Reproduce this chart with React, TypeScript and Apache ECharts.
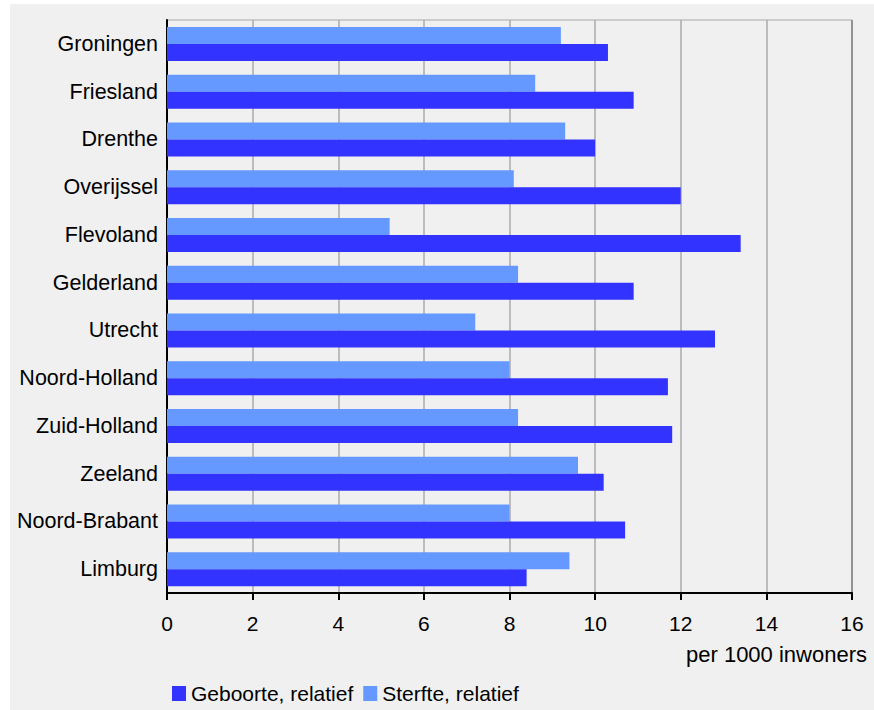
import React, { useEffect, useRef } from "react";
import * as echarts from "echarts";

const provinces = [
  "Groningen",
  "Friesland",
  "Drenthe",
  "Overijssel",
  "Flevoland",
  "Gelderland",
  "Utrecht",
  "Noord-Holland",
  "Zuid-Holland",
  "Zeeland",
  "Noord-Brabant",
  "Limburg",
];

const geboorte = [10.3, 10.9, 10.0, 12.0, 13.4, 10.9, 12.8, 11.7, 11.8, 10.2, 10.7, 8.4];
const sterfte = [9.2, 8.6, 9.3, 8.1, 5.2, 8.2, 7.2, 8.0, 8.2, 9.6, 8.0, 9.4];

const xTicks = [0, 2, 4, 6, 8, 10, 12, 14, 16];
const unitLabel = "per 1000 inwoners";
const nameGeboorte = "Geboorte, relatief";
const nameSterfte = "Sterfte, relatief";

const FONT = "'Liberation Sans', Arial, Helvetica, sans-serif";

export default function App() {
  const ref = useRef<HTMLDivElement>(null);

  useEffect(() => {
    if (!ref.current) return;
    const chart = echarts.init(ref.current, undefined, { renderer: "svg" });
    const splitColors = xTicks.map((_, i) => (i === xTicks.length - 1 ? "#808080" : "#ABABAB"));
    chart.setOption({
      animation: false,
      backgroundColor: "transparent",
      textStyle: { fontFamily: FONT, color: "#000" },
      grid: {
        left: 167,
        right: 22,
        top: 20,
        bottom: 117,
        show: true,
        borderColor: "#A8A8A8",
        borderWidth: 1,
        backgroundColor: "transparent",
      },
      xAxis: {
        type: "value",
        min: 0,
        max: 16,
        interval: 2,
        axisLine: { show: true, lineStyle: { color: "#000", width: 2 } },
        axisTick: { show: true, length: 7, lineStyle: { color: "#000", width: 2 } },
        axisLabel: {
          color: "#000",
          fontSize: 21,
          fontFamily: FONT,
          margin: 20,
          formatter: (v: number) => String(v),
        },
        splitLine: { show: true, lineStyle: { color: splitColors, width: 1.5 } },
      },
      yAxis: {
        type: "category",
        data: provinces,
        inverse: true,
        axisLine: { show: true, onZero: false, lineStyle: { color: "#000", width: 2 } },
        axisTick: { show: false },
        axisLabel: { color: "#000", fontSize: 21.5, fontFamily: FONT, margin: 9 },
        splitLine: { show: false },
      },
      legend: {
        left: 167,
        top: 678,
        itemWidth: 14,
        itemHeight: 15,
        itemGap: 10,
        icon: "rect",
        data: [nameGeboorte, nameSterfte],
        textStyle: { color: "#000", fontSize: 21, fontFamily: FONT },
      },
      graphic: [
        {
          type: "text",
          right: 7,
          top: 643,
          style: { text: unitLabel, fill: "#000", font: `22px ${FONT}` },
        },
      ],
      series: [
        {
          name: nameSterfte,
          type: "bar",
          data: sterfte,
          barWidth: 17,
          barGap: "0%",
          itemStyle: { color: "#6699FF" },
          z: 3,
        },
        {
          name: nameGeboorte,
          type: "bar",
          data: geboorte,
          barWidth: 17,
          barGap: "0%",
          itemStyle: { color: "#3333FF" },
          z: 3,
        },
      ],
    });
    return () => chart.dispose();
  }, []);

  return (
    <div style={{ position: "absolute", left: 0, top: 0, width: 874, height: 710, background: "#fff" }}>
      <div style={{ position: "absolute", left: 10, top: 4, width: 864, height: 706, background: "#F0F0F0" }} />
      <div ref={ref} style={{ position: "absolute", left: 0, top: 0, width: 874, height: 710 }} />
    </div>
  );
}
